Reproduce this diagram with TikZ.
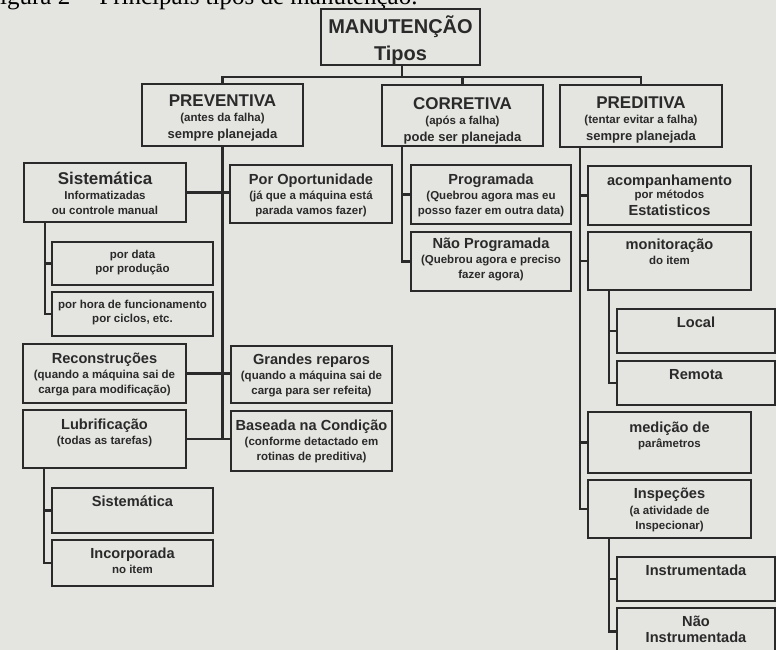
\documentclass[tikz,border=0pt]{standalone}
\usepackage{fontspec}
\setmainfont{Liberation Sans}
\newfontfamily\capfont{Liberation Serif}
\usetikzlibrary{positioning}
\definecolor{paper}{RGB}{228,228,224}
\definecolor{ink}{RGB}{42,42,42}
\newcommand{\ftit}{\fontsize{20}{24}\selectfont}
\newcommand{\fhead}{\fontsize{17}{20}\selectfont}
\newcommand{\fsec}{\fontsize{14.6}{17}\selectfont}
\newcommand{\fmid}{\fontsize{13}{16}\selectfont}
\newcommand{\fsub}{\fontsize{11.5}{15}\selectfont}
\tikzset{
  box/.style={draw=ink, line width=2.6pt, outer sep=0pt, inner sep=0pt},
  txt/.style={align=center, text=ink, inner sep=0pt, font=\bfseries\fsub},
  link/.style={draw=ink, line width=2.2pt},
}

\begin{document}
\begin{tikzpicture}[x=1pt,y=-1pt]
\fill[paper] (0,0) rectangle (776,650);
\useasboundingbox (0,0) rectangle (776,650);
\node[anchor=base west, inner sep=0pt, font=\capfont\fontsize{25}{25}\selectfont] (caption) at (-13.9,5) {Figura 2 -- Principais tipos de manutenção.};

\node[box, minimum width=159pt, minimum height=56pt] (tipos) at (400.5,37) {};
\node[txt, below=6pt of tipos.north] (tipostxt) {{\ftit MANUTENÇÃO}\\[8pt]{\ftit Tipos}};

\node[box, minimum width=161pt, minimum height=62pt] (prev) at (222.5,115) {};
\node[txt, below=11pt of prev.north] (prevtxt) {{\fhead PREVENTIVA}\\(antes da falha)\\[2pt]{\fmid sempre planejada}};
\node[box, minimum width=161pt, minimum height=61pt] (corr) at (462.5,115.5) {};
\node[txt, below=12pt of corr.north] (corrtxt) {{\fhead CORRETIVA}\\(após a falha)\\[2pt]{\fmid pode ser planejada}};
\node[box, minimum width=162pt, minimum height=62pt] (pred) at (641,116) {};
\node[txt, below=12pt of pred.north] (predtxt) {{\fhead PREDITIVA}\\(tentar evitar a falha)\\[2pt]{\fmid sempre planejada}};

\node[box, minimum width=162pt, minimum height=59pt] (sist) at (105,192.5) {};
\node[txt, below=9pt of sist.north] (sisttxt) {{\fhead Sistemática}\\Informatizadas\\ou controle manual};
\node[box, minimum width=162pt, minimum height=58pt] (opor) at (311,194) {};
\node[txt, below=9pt of opor.north] (oportxt) {{\fsec Por Oportunidade}\\(já que a máquina está\\parada vamos fazer)};
\node[box, minimum width=161pt, minimum height=43pt] (data) at (132.5,263.5) {};
\node[txt, below=8pt of data.north] (datatxt) {por data\\[-1pt]por produção};
\node[box, minimum width=161pt, minimum height=44pt] (hora) at (132.5,314) {};
\node[txt, below=8pt of hora.north] (horatxt) {por hora de funcionamento\\[-1pt]por ciclos, etc.};
\node[box, minimum width=163pt, minimum height=59pt] (reco) at (104.5,373.5) {};
\node[txt, below=9pt of reco.north] (recotxt) {{\fsec Reconstruções}\\(quando a máquina sai de\\carga para modificação)};
\node[box, minimum width=161pt, minimum height=57pt] (gran) at (311.5,374.5) {};
\node[txt, below=8pt of gran.north] (grantxt) {{\fsec Grandes reparos}\\(quando a máquina sai de\\carga para ser refeita)};
\node[box, minimum width=163pt, minimum height=58pt] (lubr) at (104.5,439) {};
\node[txt, below=9pt of lubr.north] (lubrtxt) {{\fsec Lubrificação}\\(todas as tarefas)};
\node[box, minimum width=161pt, minimum height=60pt] (base) at (311.5,441) {};
\node[txt, below=9pt of base.north] (basetxt) {{\fsec Baseada na Condição}\\(conforme detactado em\\rotinas de preditiva)};
\node[box, minimum width=161pt, minimum height=45pt] (lsis) at (132.5,510.5) {};
\node[txt, below=8pt of lsis.north] (lsistxt) {{\fsec Sistemática}};
\node[box, minimum width=161pt, minimum height=46pt] (inco) at (132.5,563) {};
\node[txt, below=8pt of inco.north] (incotxt) {{\fsec Incorporada}\\no item};

\node[box, minimum width=160pt, minimum height=59pt] (prog) at (491,194.5) {};
\node[txt, below=9pt of prog.north] (progtxt) {{\fsec Programada}\\(Quebrou agora mas eu\\posso fazer em outra data)};
\node[box, minimum width=160pt, minimum height=59pt] (npro) at (491,261.5) {};
\node[txt, below=6pt of npro.north] (nprotxt) {{\fsec Não Programada}\\(Quebrou agora e preciso\\fazer agora)};

\node[box, minimum width=163pt, minimum height=59pt] (acom) at (669.5,195.5) {};
\node[txt, below=9pt of acom.north] (acomtxt) {{\fsec acompanhamento}\\[-2pt]por métodos\\[2pt]{\fsec Estatisticos}};
\node[box, minimum width=163pt, minimum height=58pt] (moni) at (669.5,261) {};
\node[txt, below=7pt of moni.north] (monitxt) {{\fsec monitoração}\\do item};
\node[box, minimum width=158pt, minimum height=44pt] (loca) at (696,331) {};
\node[txt, below=8pt of loca.north] (locatxt) {{\fsec Local}};
\node[box, minimum width=158pt, minimum height=44pt] (remo) at (696,383) {};
\node[txt, below=8pt of remo.north] (remotxt) {{\fsec Remota}};
\node[box, minimum width=163pt, minimum height=61pt] (medi) at (669.5,442.5) {};
\node[txt, below=10pt of medi.north] (meditxt) {{\fsec medição de}\\parâmetros};
\node[box, minimum width=163pt, minimum height=58pt] (insp) at (669.5,509) {};
\node[txt, below=8pt of insp.north] (insptxt) {{\fsec Inspeções}\\[1pt](a atividade de\\Inspecionar)};
\node[box, minimum width=158pt, minimum height=44pt] (inst) at (696,579) {};
\node[txt, below=8pt of inst.north] (insttxt) {{\fsec Instrumentada}};
\node[box, minimum width=158pt, minimum height=47pt] (ninst) at (696,631.5) {};
\node[txt, below=8pt of ninst.north] (ninsttxt) {{\fsec Não}\\[1pt]{\fsec Instrumentada}};

\coordinate (bus) at (402,77);
\draw[link] (tipos.south -| bus) -- (bus);
\draw[link] (prev.north) |- (bus) -| (pred.north);
\draw[link] (corr.north) -- (corr.north |- bus);

\draw[link] (prev.south) -- (prev.south |- lubr.east);
\draw[link] (sist.east) -- (sist.east -| opor.west);
\draw[link] (reco.east) -- (reco.east -| gran.west);
\draw[link] (lubr.east) -- (lubr.east -| base.west);
\draw[link] (data.west) -| ([xshift=21pt]sist.south west);
\draw[link] (hora.west) -| ([xshift=21pt]sist.south west);
\draw[link] (lsis.west) -| ([xshift=21pt]lubr.south west);
\draw[link] (inco.west) -| ([xshift=21pt]lubr.south west);

\draw[link] (prog.west) -| ([xshift=20pt]corr.south west);
\draw[link] (npro.west) -| ([xshift=20pt]corr.south west);

\draw[link] (acom.west) -| ([xshift=20pt]pred.south west);
\draw[link] (moni.west) -| ([xshift=20pt]pred.south west);
\draw[link] (medi.west) -| ([xshift=20pt]pred.south west);
\draw[link] (insp.west) -| ([xshift=20pt]pred.south west);
\draw[link] (loca.west) -| ([xshift=21pt]moni.south west);
\draw[link] (remo.west) -| ([xshift=21pt]moni.south west);
\draw[link] (inst.west) -| ([xshift=21pt]insp.south west);
\draw[link] (ninst.west) -| ([xshift=21pt]insp.south west);
\end{tikzpicture}
\end{document}
